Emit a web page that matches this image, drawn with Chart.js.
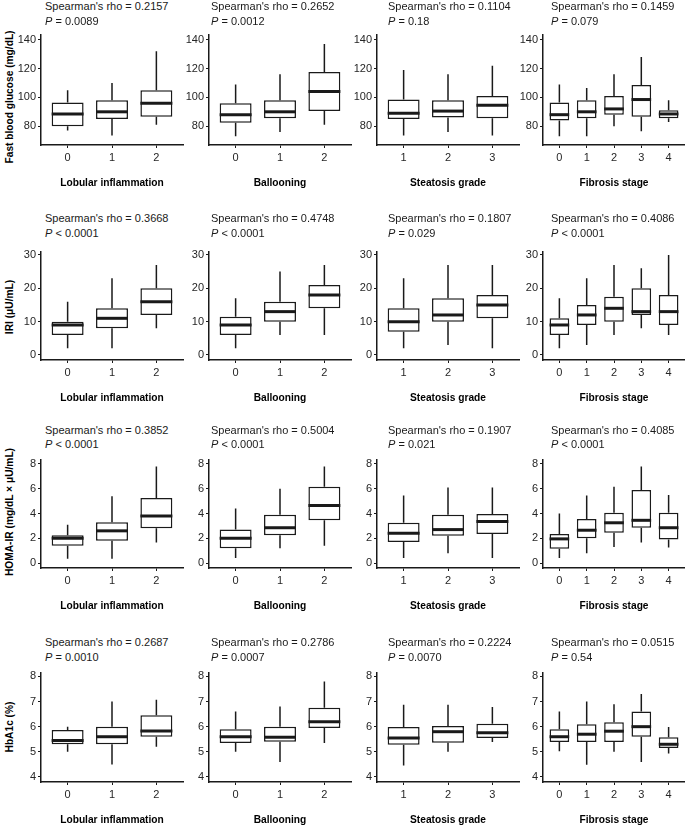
<!DOCTYPE html>
<html>
<head>
<meta charset="utf-8">
<script src="https://cdn.jsdelivr.net/npm/chart.js@4.4.1/dist/chart.umd.min.js"></script>
<style>
  html, body { margin: 0; padding: 0; background: #fff; overflow: hidden; }
  #wrap { position: relative; width: 685px; height: 827px; }
  canvas { position: absolute; }
  .stat { position: absolute; font: 11px "Liberation Sans", Arial, sans-serif; color: #1a1a1a; line-height: 13px; white-space: nowrap; }
  .stat i { font-style: italic; }
  .ytitle { position: absolute; font: bold 10.2px "Liberation Sans", Arial, sans-serif; color: #000; line-height: 12px;
            white-space: nowrap; transform: translate(-50%, -50%) rotate(-90deg); }
</style>
</head>
<body>
<div id="wrap"></div>
<script>
// labels
const predictors = ['Lobular inflammation', 'Ballooning', 'Steatosis grade', 'Fibrosis stage'];
const predictorLevels = [['0', '1', '2'], ['0', '1', '2'], ['1', '2', '3'], ['0', '1', '2', '3', '4']];
const outcomes = ['Fast blood glucose (mg/dL)', 'IRI (\u03bcU/mL)', 'HOMA-IR (mg/dL \u00d7 \u03bcU/mL)', 'HbA1c (%)'];

// y tick labels per outcome
const fbgTicks = [80, 100, 120, 140];
const iriTicks = [0, 10, 20, 30];
const homaTicks = [0, 2, 4, 6, 8];
const hba1cTicks = [4, 5, 6, 7, 8];

// Spearman results per outcome (lobular, ballooning, steatosis, fibrosis)
const fbgRho = ['0.2157', '0.2652', '0.1104', '0.1459'];
const fbgP = ['= 0.0089', '= 0.0012', '= 0.18', '= 0.079'];
const iriRho = ['0.3668', '0.4748', '0.1807', '0.4086'];
const iriP = ['< 0.0001', '< 0.0001', '= 0.029', '< 0.0001'];
const homaRho = ['0.3852', '0.5004', '0.1907', '0.4085'];
const homaP = ['< 0.0001', '< 0.0001', '= 0.021', '< 0.0001'];
const hba1cRho = ['0.2687', '0.2786', '0.2224', '0.0515'];
const hba1cP = ['= 0.0010', '= 0.0007', '= 0.0070', '= 0.54'];

// box stats: [min, q1, median, q3, max]
const fbgLobular = [[77, 80, 88.5, 96.5, 105], [73.5, 85, 90, 98, 110], [81, 86.5, 96, 105, 132]];
const fbgBallooning = [[73, 82.5, 88, 96, 109], [76, 85.5, 90, 98, 116], [81, 90.5, 104, 117.5, 137]];
const fbgSteatosis = [[73.5, 85, 89, 98.5, 119], [76, 86, 90.5, 98, 116], [73.5, 85.5, 94.5, 101, 122]];
const fbgFibrosis = [[73, 84, 88, 96.5, 109], [73, 85.5, 90, 98, 106.5], [80, 88, 92, 101, 116], [76.5, 86.5, 98.5, 108.5, 128], [83, 85.5, 88.5, 91, 98]];

const iriLobular = [[2, 6, 9, 10, 16], [2, 8, 11, 14, 23], [8, 12, 16, 20, 27]];
const iriBallooning = [[2, 6, 9, 11.5, 17], [6, 10, 13, 16, 25], [6, 14, 18, 21, 27]];
const iriSteatosis = [[2, 7, 10, 14, 23], [3, 10, 12, 17, 27], [2, 11, 15, 18, 27]];
const iriFibrosis = [[2, 6, 9, 11, 17], [3, 9, 12, 15, 23], [6, 10, 14, 17.5, 27], [8, 12, 13, 20, 26], [6, 9, 13, 18, 30]];

const homaLobular = [[0.35, 1.4, 2.0, 2.25, 3.1], [0.35, 1.8, 2.6, 3.3, 5.4], [1.65, 2.8, 3.8, 5.25, 7.8]];
const homaBallooning = [[0.4, 1.2, 2.0, 2.7, 4.4], [1.2, 2.25, 2.85, 3.9, 6.0], [1.4, 3.45, 4.65, 6.15, 7.8]];
const homaSteatosis = [[0.4, 1.7, 2.4, 3.25, 5.45], [0.8, 2.2, 2.7, 3.9, 6.1], [0.4, 2.35, 3.35, 3.95, 6.1]];
const homaFibrosis = [[0.4, 1.15, 1.95, 2.35, 4.0], [0.8, 2.0, 2.65, 3.55, 5.45], [1.3, 2.45, 3.25, 4.05, 6.15], [1.65, 2.85, 3.45, 5.9, 7.8], [1.25, 1.9, 2.85, 4.05, 5.5]];

const hba1cLobular = [[5.0, 5.3, 5.45, 5.87, 6.0], [4.5, 5.3, 5.6, 6.0, 7.0], [5.2, 5.6, 5.83, 6.45, 7.07]];
const hba1cBallooning = [[5.0, 5.35, 5.6, 5.9, 6.6], [4.6, 5.4, 5.58, 6.0, 6.8], [5.35, 5.95, 6.2, 6.75, 7.8]];
const hba1cSteatosis = [[4.46, 5.28, 5.55, 5.99, 6.87], [5.0, 5.36, 5.8, 6.03, 6.87], [5.39, 5.55, 5.76, 6.12, 6.78]];
const hba1cFibrosis = [[5.02, 5.39, 5.6, 5.9, 6.6], [4.49, 5.39, 5.7, 6.1, 7.0], [5.0, 5.39, 5.82, 6.18, 6.89], [4.6, 5.6, 6.0, 6.6, 7.3], [4.93, 5.15, 5.3, 5.58, 5.99]];

// layout
const colAxisX = [41, 209, 377, 543];
const colTextX = [45, 211, 388, 551];
const plotWidth = 142;
const yTitleX = 9.5;

const rows = [
  { title: outcomes[0], ticks: fbgTicks, min: 67, max: 143.5, top: 34, height: 111, textY: [6, 21], titleY: 97,
    rho: fbgRho, p: fbgP, stats: [fbgLobular, fbgBallooning, fbgSteatosis, fbgFibrosis] },
  { title: outcomes[1], ticks: iriTicks, min: -1.5, max: 31, top: 251, height: 109, textY: [218, 233], titleY: 307,
    rho: iriRho, p: iriP, stats: [iriLobular, iriBallooning, iriSteatosis, iriFibrosis] },
  { title: outcomes[2], ticks: homaTicks, min: -0.4, max: 8.35, top: 459, height: 109, textY: [430, 444], titleY: 512,
    rho: homaRho, p: homaP, stats: [homaLobular, homaBallooning, homaSteatosis, homaFibrosis] },
  { title: outcomes[3], ticks: hba1cTicks, min: 3.8, max: 8.15, top: 672, height: 110, textY: [642, 657], titleY: 727,
    rho: hba1cRho, p: hba1cP, stats: [hba1cLobular, hba1cBallooning, hba1cSteatosis, hba1cFibrosis] }
];

// whiskers + median drawn on top of the floating bars
const boxWhiskers = {
  id: 'boxWhiskers',
  afterDatasetsDraw(chart) {
    const stats = chart.options.plugins.boxWhiskers.stats;
    const meta = chart.getDatasetMeta(0);
    const y = chart.scales.y;
    const ctx = chart.ctx;
    ctx.save();
    ctx.strokeStyle = '#1a1a1a';
    ctx.lineCap = 'butt';
    meta.data.forEach((bar, i) => {
      const [lo, q1, med, q3, hi] = stats[i];
      ctx.lineWidth = 1.5;
      ctx.beginPath();
      ctx.moveTo(bar.x, y.getPixelForValue(q3));
      ctx.lineTo(bar.x, y.getPixelForValue(hi));
      ctx.moveTo(bar.x, y.getPixelForValue(q1));
      ctx.lineTo(bar.x, y.getPixelForValue(lo));
      ctx.stroke();
      ctx.lineWidth = 3;
      ctx.beginPath();
      ctx.moveTo(bar.x - bar.width / 2, y.getPixelForValue(med));
      ctx.lineTo(bar.x + bar.width / 2, y.getPixelForValue(med));
      ctx.stroke();
    });
    ctx.restore();
  }
};

const wrap = document.getElementById('wrap');
const tickFont = { family: '"Liberation Sans", Arial, sans-serif', size: 11 };
const titleFont = { family: '"Liberation Sans", Arial, sans-serif', size: 10.2, weight: 'bold' };

function addText(cls, html, x, y) {
  const d = document.createElement('div');
  d.className = cls;
  d.style.left = x + 'px';
  d.style.top = y + 'px';
  d.innerHTML = html;
  wrap.appendChild(d);
}

rows.forEach((row, r) => {
  addText('ytitle', row.title, yTitleX, row.titleY);
  predictors.forEach((pred, c) => {
    const levels = predictorLevels[c];
    const stats = row.stats[c];
    const yW = c === 0 ? 41 : 38;
    const xH = 46;
    const canvas = document.createElement('canvas');
    canvas.width = yW + plotWidth + 2;
    canvas.height = row.height + 8 + xH + 2;
    canvas.style.left = (colAxisX[c] - yW) + 'px';
    canvas.style.top = (row.top - 8) + 'px';
    wrap.appendChild(canvas);

    addText('stat', "Spearman's rho = " + row.rho[c], colTextX[c], row.textY[0] - 6.5);
    addText('stat', '<i>P</i> ' + row.p[c], colTextX[c], row.textY[1] - 6.5);

    new Chart(canvas, {
      type: 'bar',
      data: {
        datasets: [{
          data: stats.map((s, i) => ({ x: i, y: [s[1], s[3]] })),
          backgroundColor: '#ffffff',
          borderColor: '#1a1a1a',
          borderWidth: 1.5,
          borderSkipped: false,
          categoryPercentage: 1,
          barPercentage: 0.72
        }]
      },
      options: {
        responsive: false,
        animation: false,
        devicePixelRatio: 1,
        layout: { padding: { top: 8, right: 2, bottom: 2, left: 0 } },
        plugins: {
          legend: { display: false },
          tooltip: { enabled: false },
          boxWhiskers: { stats: stats }
        },
        scales: {
          x: {
            type: 'linear',
            offset: false,
            min: -0.6,
            max: levels.length - 0.4,
            afterBuildTicks: s => { s.ticks = levels.map((_, i) => ({ value: i })); },
            afterFit: s => { s.height = xH; },
            ticks: { callback: (v, i) => levels[i], color: '#262626', font: tickFont, padding: 3, maxRotation: 0 },
            grid: { display: true, offset: false, drawOnChartArea: false, drawTicks: true, tickLength: 3, color: '#1a1a1a', lineWidth: 1 },
            border: { display: true, color: '#1a1a1a', width: 1.5 },
            title: { display: true, text: pred, color: '#000', font: titleFont, padding: { top: 0, bottom: 2 } }
          },
          y: {
            min: row.min,
            max: row.max,
            afterBuildTicks: s => { s.ticks = row.ticks.map(v => ({ value: v })); },
            afterFit: s => { s.width = yW; },
            ticks: { color: '#262626', font: tickFont, padding: 2 },
            grid: { display: true, drawOnChartArea: false, drawTicks: true, tickLength: 3, color: '#1a1a1a', lineWidth: 1 },
            border: { display: true, color: '#1a1a1a', width: 1.5 }
          }
        }
      },
      plugins: [boxWhiskers]
    });
  });
});
</script>
</body>
</html>
